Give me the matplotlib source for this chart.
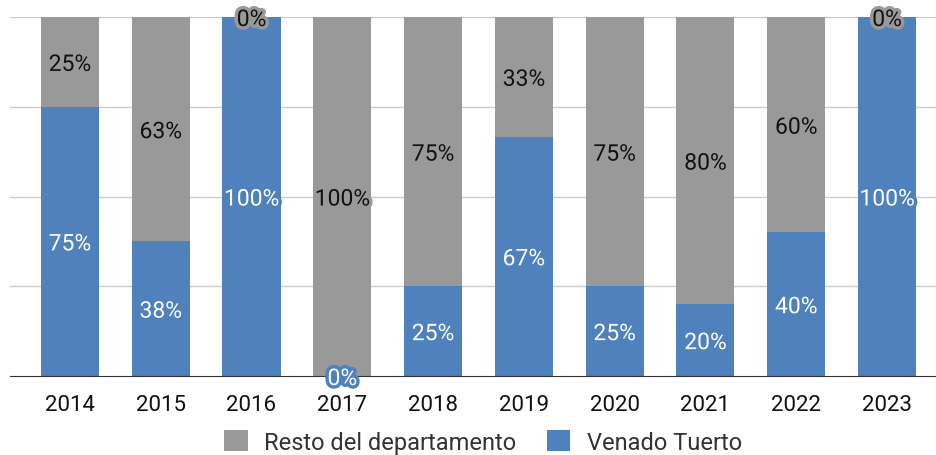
import matplotlib
matplotlib.use("Agg")
import matplotlib.pyplot as plt
import matplotlib.patheffects as pe
import numpy as np

years = ["2014", "2015", "2016", "2017", "2018", "2019", "2020", "2021", "2022", "2023"]
venado = [75, 37.5, 100, 0, 25, 66.7, 25, 20, 40, 100]
resto = [25, 62.5, 0, 100, 75, 33.3, 75, 80, 60, 0]

blue = "#4f81bd"
gray = "#999999"

plt.rcParams['font.family'] = ['Roboto', 'DejaVu Sans']

W, H = 936, 456
fig = plt.figure(figsize=(W / 100, H / 100), dpi=100)
ax = fig.add_axes([10 / W, (H - 377) / H, (936 - 10) / W, (377 - 18) / H])

x = np.arange(len(years))
bw = 0.64
ax.bar(x, venado, width=bw, color=blue, zorder=2, label="Venado Tuerto")
ax.bar(x, resto, width=bw, bottom=venado, color=gray, zorder=2, label="Resto del departamento")

def lab(v):
    return f"{int(v + 0.5)}%"

fs = 16.5
for i in range(len(years)):
    v, r = venado[i], resto[i]
    ax.text(x[i], v / 2, lab(v), ha="center", va="center_baseline", fontsize=fs, color="white",
            zorder=5, clip_on=False,
            path_effects=[pe.withStroke(linewidth=5, foreground=blue)])
    ax.text(x[i], v + r / 2, lab(r), ha="center", va="center_baseline", fontsize=fs, color="#111111",
            zorder=5, clip_on=False,
            path_effects=[pe.withStroke(linewidth=5, foreground=gray)])

ax.set_ylim(0, 100)
ax.set_xlim(-0.66, 9.54)
ax.set_yticks([25, 50, 75, 100])
ax.set_yticklabels([])
ax.tick_params(axis="y", length=0)
ax.grid(axis="y", color="#cccccc", linewidth=1, zorder=0)
ax.set_xticks(x)
ax.set_xticklabels(years, fontsize=16, color="#111111")
ax.tick_params(axis="x", length=0, pad=13)
for s in ["top", "right", "left"]:
    ax.spines[s].set_visible(False)
ax.spines["bottom"].set_color("#333333")
ax.spines["bottom"].set_zorder(3)

handles, labels = ax.get_legend_handles_labels()
leg = fig.legend(handles[::-1], labels[::-1], loc="center", bbox_to_anchor=(483 / W, (H - 443) / H),
                 ncol=2, frameon=False, fontsize=17, handlelength=1.0, handleheight=1.0,
                 columnspacing=1.3, handletextpad=0.7, borderpad=0)
for t in leg.get_texts():
    t.set_color("#333333")

fig.savefig("out.png", dpi=100)
